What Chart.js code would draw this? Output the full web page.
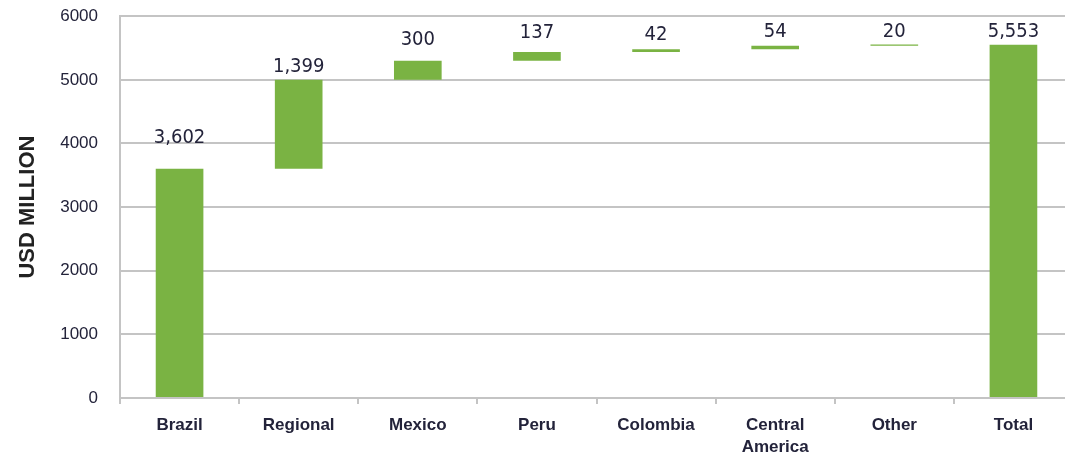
<!DOCTYPE html>
<html>
<head>
<meta charset="utf-8">
<script src="https://cdn.jsdelivr.net/npm/chart.js@4"></script>
<style>
  html, body { margin: 0; padding: 0; background: #fff; overflow: hidden; }
  #wrap { width: 1073px; height: 471px; position: relative; top: -16px; }
</style>
</head>
<body>
<div id="wrap"><canvas id="waterfall"></canvas></div>
<script>
// valores (USD milhoes)
const categories = ["Brazil", "Regional", "Mexico", "Peru", "Colombia", ["Central", "America"], "Other", "Total"];
const changes = [3602, 1399, 300, 137, 42, 54, 20];
const total = 5553;
const yMin = 0, yMax = 6000, yStep = 1000;

// monta as barras flutuantes (inicio, fim) a partir dos incrementos
let running = 0;
const ranges = changes.map(v => {
    const r = [running, running + v];
    running += v;
    return r;
});
ranges.push([0, total]);
const labelValues = changes.concat([total]);

// distancia do rotulo ao topo da barra (px), como no original
const labelLift = [26, 8, 16, 14, 9, 9, 8, 8];

const gridColor = "#c4c4c4";
const textColor = "#23233a";

const valueLabels = {
    id: "valueLabels",
    afterDatasetsDraw(chart) {
        const ctx = chart.ctx;
        const meta = chart.getDatasetMeta(0);
        ctx.save();
        ctx.font = "20px 'Liberation Sans Narrow', 'DejaVu Sans Condensed', sans-serif";
        ctx.fillStyle = textColor;
        ctx.textAlign = "center";
        ctx.textBaseline = "alphabetic";
        meta.data.forEach((bar, i) => {
            const top = Math.min(bar.y, bar.base);
            ctx.fillText(labelValues[i].toLocaleString("en-US"), bar.x, top - labelLift[i]);
        });
        ctx.restore();
    }
};

new Chart(document.getElementById("waterfall"), {
    type: "bar",
    data: {
        labels: categories,
        datasets: [{
            data: ranges,
            backgroundColor: "#7ab343",
            borderWidth: 0,
            barPercentage: 0.4,
            categoryPercentage: 1.0
        }]
    },
    options: {
        responsive: true,
        maintainAspectRatio: false,
        animation: false,
        layout: { padding: 0 },
        plugins: {
            legend: { display: false },
            tooltip: { enabled: false }
        },
        scales: {
            x: {
                grid: {
                    display: true,
                    drawOnChartArea: false,
                    drawTicks: true,
                    tickLength: 6,
                    color: gridColor,
                    lineWidth: 2
                },
                border: { color: gridColor, width: 2 },
                ticks: {
                    color: textColor,
                    padding: 10,
                    maxRotation: 0,
                    autoSkip: false,
                    font: { family: "'Liberation Sans', Arial, sans-serif", size: 17, weight: "bold", lineHeight: 1.3 }
                },
                afterFit(scale) { scale.height = 57; }
            },
            y: {
                min: yMin,
                max: yMax,
                grid: {
                    color: gridColor,
                    lineWidth: 2,
                    drawTicks: false
                },
                border: { color: gridColor, width: 2 },
                ticks: {
                    stepSize: yStep,
                    color: textColor,
                    padding: 22,
                    callback: v => String(v),
                    font: { family: "'Liberation Sans', Arial, sans-serif", size: 17 }
                },
                title: {
                    display: true,
                    text: "USD MILLION",
                    color: "#222",
                    padding: { top: 15, bottom: 0 },
                    font: { family: "'Liberation Sans', Arial, sans-serif", size: 22, weight: "bold" }
                },
                afterFit(scale) { scale.width = 120; }
            }
        }
    },
    plugins: [valueLabels]
});
</script>
</body>
</html>
